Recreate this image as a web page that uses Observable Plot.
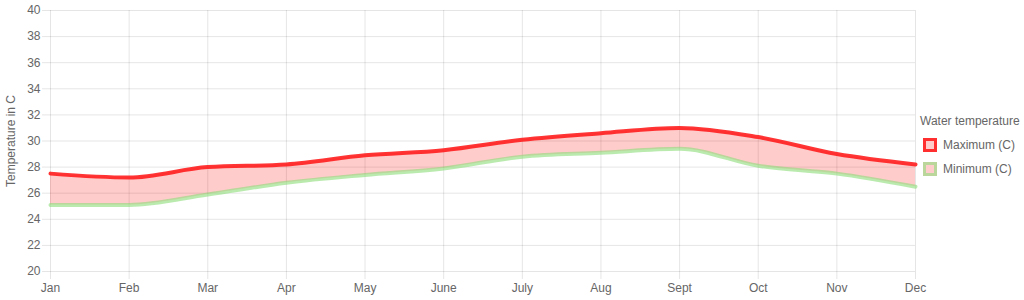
<!DOCTYPE html>
<html><head><meta charset="utf-8">
<script src="https://cdn.jsdelivr.net/npm/d3@7"></script>
<script src="https://cdn.jsdelivr.net/npm/@observablehq/plot@0.6"></script>
<style>
body{margin:0;background:#fff;font-family:"Liberation Sans",Arial,sans-serif;}
#wrap{position:relative;width:1024px;height:300px;}
#legend{position:absolute;left:920px;top:114px;font-size:12px;color:#666;}
#legend .item{display:flex;align-items:center;margin-top:10px;margin-left:3px;}
#legend .box{width:8px;height:8px;margin-right:6px;box-sizing:content-box;}
</style></head>
<body><div id="wrap"><div id="legend"></div></div>
<script>
const months = ["Jan","Feb","Mar","Apr","May","June","July","Aug","Sept","Oct","Nov","Dec"];
const maxTemp = [27.5,27.2,28.0,28.2,28.9,29.3,30.1,30.6,31.0,30.3,29.0,28.2];
const minTemp = [25.1,25.1,25.9,26.8,27.4,27.9,28.8,29.1,29.4,28.1,27.5,26.5];
const yTicks = [20,22,24,26,28,30,32,34,36,38,40];
const legendTitle = "Water temperature";
const seriesNames = ["Maximum (C)","Minimum (C)"];

const data = months.map((m,i)=>({month:m,max:maxTemp[i],min:minTemp[i]}));
const grid = "rgba(0,0,0,0.1)";
const chart = Plot.plot({
  width:1024, height:300,
  marginLeft:50, marginRight:109, marginTop:10, marginBottom:29,
  style:{fontFamily:"Liberation Sans, Arial, sans-serif", fontSize:"12px", color:"#666", background:"#fff"},
  x:{type:"point", domain:months, padding:0, round:false},
  y:{domain:[20,40]},
  marks:[
    Plot.ruleY(yTicks,{stroke:grid, insetLeft:-8}),
    Plot.ruleX(months,{stroke:grid, insetBottom:-8}),
    Plot.axisY({ticks:yTicks, tickSize:0, tickPadding:10, fill:"#666", fontSize:12,
      label:"Temperature in C", labelAnchor:"center", labelArrow:"none", labelOffset:44}),
    Plot.axisX({tickSize:0, tickPadding:12, fill:"#666", fontSize:12, label:null}),
    Plot.areaY(data,{x:"month", y1:"min", y2:"max", fill:"rgba(255,0,0,0.2)", curve:"monotone-x"}),
    Plot.lineY(data,{x:"month", y:"min", stroke:"rgba(140,220,120,0.6)", strokeWidth:4, curve:"monotone-x"}),
    Plot.lineY(data,{x:"month", y:"max", stroke:"rgba(255,30,30,0.9)", strokeWidth:4, curve:"monotone-x"})
  ]
});
document.getElementById("wrap").prepend(chart);
const lg = document.getElementById("legend");
lg.innerHTML = `<div>${legendTitle}</div>
<div class="item"><span class="box" style="border:3px solid rgba(255,30,30,0.9);background:rgba(255,0,0,0.2)"></span>${seriesNames[0]}</div>
<div class="item"><span class="box" style="border:3px solid rgba(140,220,120,0.6);background:rgba(255,0,0,0.2)"></span>${seriesNames[1]}</div>`;
</script></body></html>
